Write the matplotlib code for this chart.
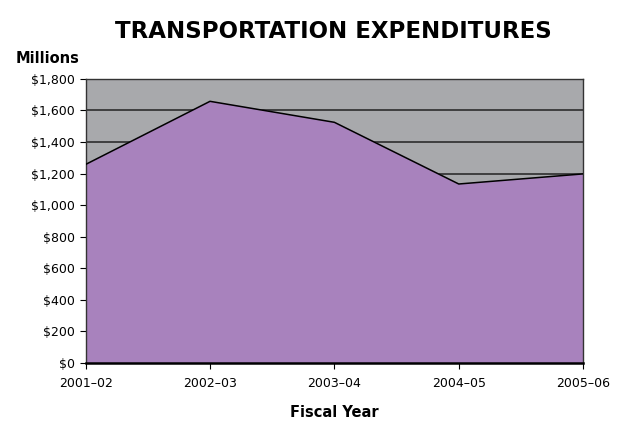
import matplotlib.pyplot as plt
from matplotlib.ticker import FuncFormatter

# Transportation spending by fiscal year, in millions of dollars
years = ['2001–02', '2002–03', '2003–04', '2004–05', '2005–06']
spending = [1258, 1658, 1525, 1134, 1198]

fig = plt.figure(figsize=(6.25, 4.22), dpi=100)
ax = fig.add_axes([0.137, 0.14, 0.796, 0.673])

x = range(len(years))
ax.set_facecolor('#a8a9ac')
ax.fill_between(x, spending, 0, color='#a882bd', zorder=2)
ax.plot(x, spending, color='black', linewidth=1.1, zorder=3)

ax.set_xlim(0, len(years) - 1)
ax.set_ylim(0, 1800)
ax.set_yticks(range(0, 1801, 200))
ax.yaxis.set_major_formatter(FuncFormatter(lambda v, p: f'${v:,.0f}'))
ax.set_xticks(list(x))
ax.set_xticklabels(years)
ax.grid(axis='y', color='#222222', linewidth=1.1, zorder=1)
ax.set_axisbelow(True)

for side in ['left', 'right', 'top']:
    ax.spines[side].set_color('#333333')
    ax.spines[side].set_linewidth(1.0)
ax.spines['bottom'].set_linewidth(1.8)
ax.tick_params(axis='both', labelsize=9, length=4, width=0.8, colors='black')
ax.tick_params(axis='x', pad=6)

fig.text(0.533, 0.925, 'TRANSPORTATION EXPENDITURES', ha='center', va='center',
         fontsize=16.5, fontweight='bold')
fig.text(0.025, 0.862, 'Millions', ha='left', va='center',
         fontsize=10.5, fontweight='bold')
ax.set_xlabel('Fiscal Year', fontsize=10.5, fontweight='bold', labelpad=11)

fig.savefig('out.png', dpi=100)
